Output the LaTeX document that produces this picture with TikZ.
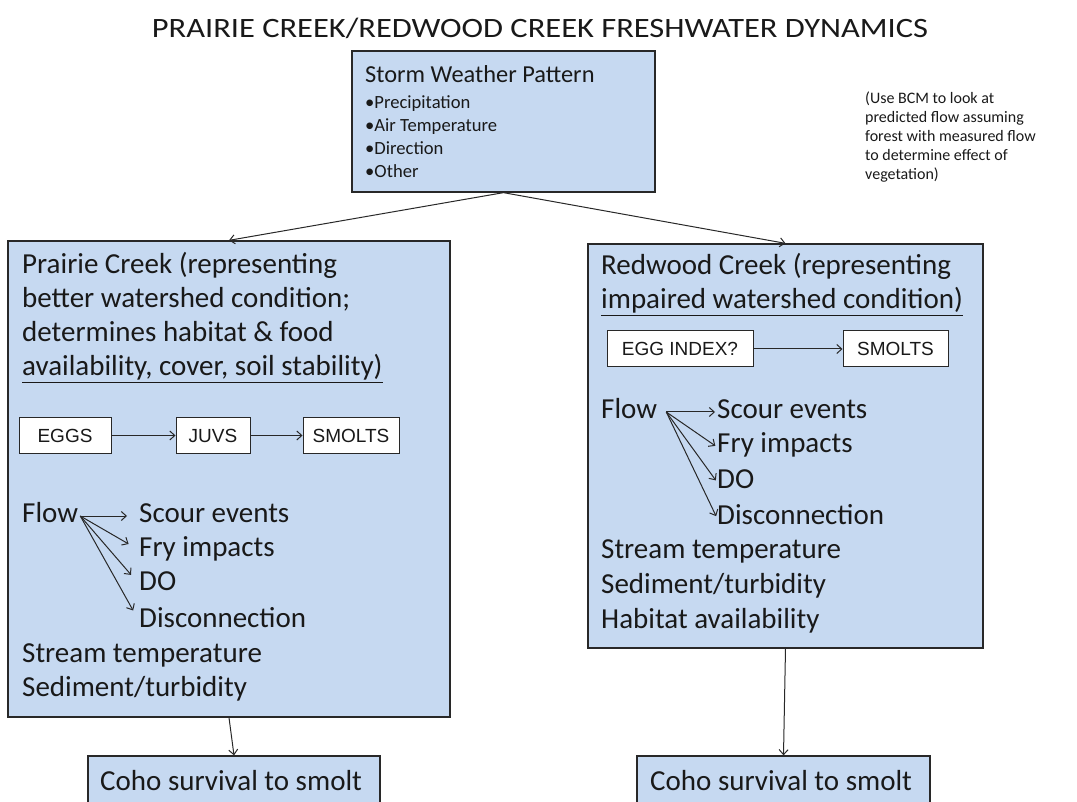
\documentclass[tikz,border=0pt]{standalone}
\usepackage{fontspec}
\setmainfont{Carlito}
\newfontfamily\arialfont{Liberation Sans}
\usetikzlibrary{arrows.meta}

\definecolor{boxblue}{RGB}{198,217,241}
\definecolor{boxline}{RGB}{40,40,40}
\definecolor{inkgray}{RGB}{25,25,25}

\begin{document}
\begin{tikzpicture}
  [x=1pt,y=-1pt,>={Straight Barb[length=5pt,width=9pt]},
   bluebox/.style={draw=boxline,fill=boxblue,line width=1.3pt,inner sep=0pt},
   stagebox/.style={draw=boxline,fill=white,line width=1pt,inner sep=0pt,
     minimum height=35pt,font=\arialfont\fontsize{19}{22}\selectfont,text=inkgray},
   txt/.style={anchor=base west,inner sep=0pt,align=left,text=inkgray,
     font=\fontsize{29}{34}\selectfont},
   item/.style={txt,text height=20pt,text depth=8pt},
   link/.style={->,line width=1pt,draw=boxline}]
  \useasboundingbox (0,0) rectangle (1077,802);
  \clip (0,0) rectangle (1077,802);

  \node[anchor=base,inner sep=0pt,text=inkgray,font=\fontsize{28}{32}\selectfont]
    (title) at (540,38) {\scalebox{1.16}[1]{PRAIRIE CREEK/REDWOOD CREEK FRESHWATER DYNAMICS}};

  % weather box (multi-line nodes sit on their last baseline)
  \node[bluebox,minimum width=303pt,minimum height=141pt] (storm) at (503.5,121.5) {};
  \node[txt,font=\fontsize{24.4}{28}\selectfont] (stormhead) at (365,83) {Storm Weather Pattern};
  \node[txt,font=\fontsize{18.6}{23.3}\selectfont] (stormlist) at (365,178)
    {•Precipitation\\•Air Temperature\\•Direction\\•Other};
  \node[txt,font=\fontsize{16}{19}\selectfont] (note) at (865,180)
    {(Use BCM to look at\\predicted flow assuming\\forest with measured flow\\to determine effect of\\vegetation)};

  % prairie creek
  \node[bluebox,minimum width=442pt,minimum height=476pt] (prairie) at (229,479) {};
  \node[txt] (prairiehead) at (22,376)
    {Prairie Creek (representing\\better watershed condition;\\determines habitat \& food\\\underline{availability, cover, soil stability)}};
  \node[stagebox,minimum width=92pt] (eggs) at (65,435.5) {EGGS};
  \node[stagebox,minimum width=74pt] (juvs) at (213,435.5) {JUVS};
  \node[stagebox,minimum width=96pt] (smoltsL) at (351,435.5) {SMOLTS};
  \draw[link] (eggs) -- (juvs);
  \draw[link] (juvs) -- (smoltsL);
  \node[item] (flowL) at (22,522) {Flow};
  \node[item] (scourL) at (139,522) {Scour events};
  \node[item] (fryL) at (139,556) {Fry impacts};
  \node[item] (doL) at (139,590) {DO};
  \node[item] (discL) at (139,627) {Disconnection};
  \node[txt] (restL) at (22,696) {Stream temperature\\Sediment/turbidity};
  \foreach \to in {scourL,fryL,doL,discL}
    \draw[link,shorten >=12pt] ([xshift=2pt]flowL.east) -- (\to.west);

  % redwood creek
  \node[bluebox,minimum width=395pt,minimum height=404pt] (redwood) at (785.5,446) {};
  \node[txt] (redwoodhead) at (601,309)
    {Redwood Creek (representing\\\underline{impaired watershed condition)}};
  \node[stagebox,minimum width=146pt,minimum height=36pt] (eggindex) at (680,349) {EGG INDEX?};
  \node[stagebox,minimum width=105pt,minimum height=36pt] (smoltsR) at (895.5,349) {SMOLTS};
  \draw[link] (eggindex) -- (smoltsR);
  \node[item] (flowR) at (601,418) {Flow};
  \node[item] (scourR) at (717,418) {Scour events};
  \node[item] (fryR) at (717,453) {Fry impacts};
  \node[item] (doR) at (717,488) {DO};
  \node[item] (discR) at (717,524) {Disconnection};
  \node[txt,font=\fontsize{29}{35}\selectfont] (restR) at (601,628)
    {Stream temperature\\Sediment/turbidity\\Habitat availability};
  \foreach \to in {scourR,fryR,doR,discR}
    \draw[link,shorten >=2pt] ([xshift=9pt]flowR.east) -- (\to.west);

  % survival boxes
  \node[bluebox,minimum width=292pt,minimum height=80pt] (cohoL) at (234,796) {};
  \node[txt] (cohoLtext) at (100,790) {Coho survival to smolt};
  \node[bluebox,minimum width=293pt,minimum height=80pt] (cohoR) at (783.5,796) {};
  \node[txt] (cohoRtext) at (650,790) {Coho survival to smolt};

  \draw[link] (storm.south) -- (prairie.north);
  \draw[link] (storm.south) -- (redwood.north);
  \draw[link] (prairie.south) -- (cohoL.north);
  \draw[link] (redwood.south) -- (cohoR.north);
\end{tikzpicture}
\end{document}
